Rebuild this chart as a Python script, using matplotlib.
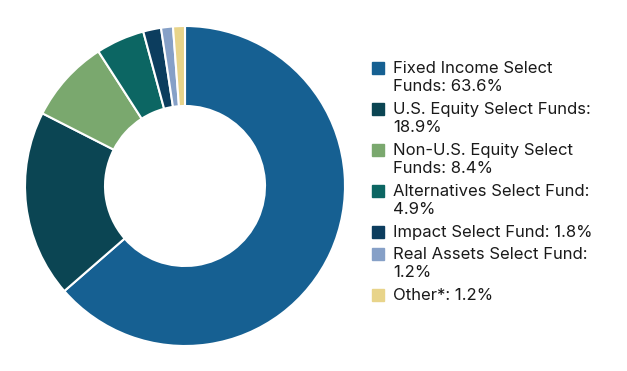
import matplotlib.pyplot as plt
from matplotlib.patches import Rectangle

# Data
labels = ['Fixed Income Select\nFunds', 'U.S. Equity Select Funds:\n', 'Non-U.S. Equity Select\nFunds',
          'Alternatives Select Fund:\n', 'Impact Select Fund', 'Real Assets Select Fund:\n', 'Other*']
values = [63.6, 18.9, 8.4, 4.9, 1.8, 1.2, 1.2]
colors = ['#166092', '#0b4553', '#7aa86e', '#0c6663', '#0c3d5e', '#86a0c7', '#e8d48a']

plt.rcParams['font.family'] = ['Inter', 'DejaVu Sans']

W, H = 627, 371
fig = plt.figure(figsize=(W / 100, H / 100), dpi=100)

# Donut
ax = fig.add_axes([25 / W, 25 / H, 320 / W, 320 / H])
ax.pie(values, colors=colors, startangle=90, counterclock=False,
       wedgeprops=dict(width=0.5, edgecolor='white', linewidth=1.5))
ax.set_aspect('equal')
ax.set_xlim(-1, 1)
ax.set_ylim(-1, 1)

# Legend, drawn by hand
y = 68
for lab, val, col in zip(labels, values, colors):
    if lab.endswith('\n'):
        txt = f'{lab.rstrip(chr(10)).rstrip(":")}:\n{val}%'
    else:
        txt = f'{lab}: {val}%'
    fig.patches.append(Rectangle((372 / W, 1 - (y + 6) / H), 12 / W, 12 / H,
                                 transform=fig.transFigure, color=col))
    fig.text(393 / W, 1 - (y - 7) / H, txt, fontsize=12, color='#1a1a1a',
             va='top', ha='left', linespacing=1.25,
             transform=fig.transFigure)
    nlines = txt.count('\n') + 1
    y += 22 if nlines == 1 else 41

fig.savefig('out.png', dpi=100)
